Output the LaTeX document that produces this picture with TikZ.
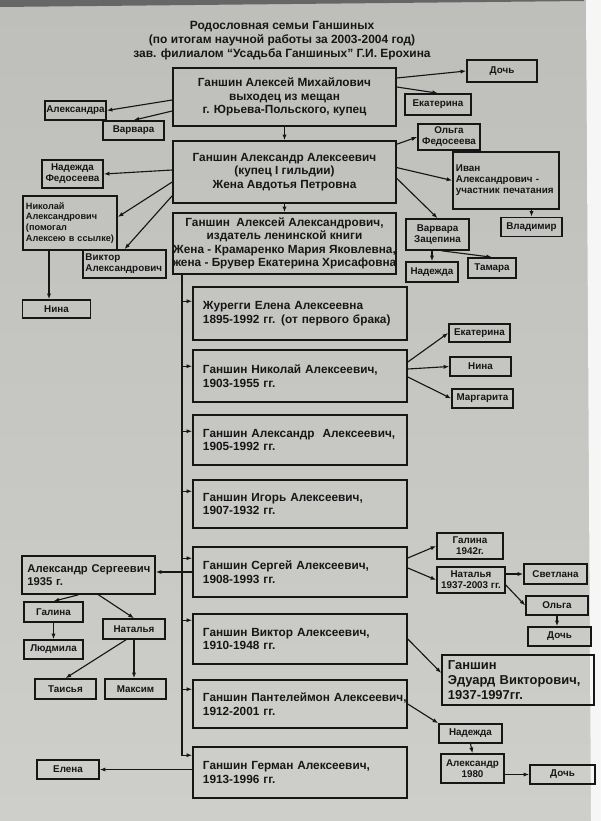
\documentclass[tikz,border=0pt]{standalone}
\usepackage{fontspec}
\setmainfont{Liberation Sans}
\usepackage{tikz}
\usetikzlibrary{arrows.meta}

\definecolor{postertop}{RGB}{190,190,187}
\definecolor{posterbot}{RGB}{206,206,203}
\definecolor{ink}{RGB}{22,22,22}

\tikzset{
  box/.style={draw=ink, line width=1.1pt, inner sep=0pt, align=center, text=ink,
    font=\fontsize{7}{7.8}\selectfont\bfseries},
  mainbox/.style={box, font=\fontsize{8.4}{9.6}\selectfont\bfseries},
  sonbox/.style={mainbox, align=left, text width=4.85cm, inner xsep=0.25cm,
    minimum width=5.35cm},
  wh/.style 2 args={minimum width=#1cm, minimum height=#2cm},
  link/.style={->, draw=ink, line width=0.8pt}
}

\begin{document}
\begin{tikzpicture}[x=0.025cm, y=-0.025cm, >={Latex[length=4pt,width=3pt]}]

\useasboundingbox (0,0) rectangle (600,821);
\shade[top color=postertop, bottom color=posterbot] (0,0) rectangle (600,821);
\fill[black!60] (0,0) -- (584,0) -- (584,1) -- (0,7) -- cycle;
\fill[white!93!gray] (586,0) -- (600,0) -- (600,821) -- (591,821) -- cycle;

% title
\node[align=center, text=ink, font=\fontsize{8.5}{9.9}\selectfont\bfseries] (title) at (282,41)
  {Родословная семьи Ганшиных\\(по итогам научной работы за 2003-2004 год)\\зав. филиалом “Усадьба Ганшиных” Г.И. Ерохина};

% first generations
\node[mainbox, wh={5.575}{1.45}] (alexM) at (284.5,97)
  {Ганшин Алексей Михайлович\\выходец из мещан\\г. Юрьева-Польского, купец};
\node[mainbox, wh={5.575}{1.55}] (alexandrA) at (284.5,172)
  {Ганшин Александр Алексеевич\\(купец I гильдии)\\Жена Авдотья Петровна};
\node[mainbox, wh={5.575}{1.525}] (alexeyA) at (284.5,243.5)
  {Ганшин\ \ Алексей Александрович,\\издатель ленинской книги\\Жена - Крамаренко Мария Яковлевна,\\жена - Брувер Екатерина Хрисафовна};

\node[box, wh={1.75}{0.55}] (doch1) at (502,71) {Дочь};
\node[box, wh={1.65}{0.525}] (ekat1) at (438,104.5) {Екатерина};
\node[box, wh={1.525}{0.475}] (aleksandra) at (75.5,110.5) {Александра};
\node[box, wh={1.525}{0.475}] (varvara) at (133.5,130.5) {Варвара};
\node[box, wh={1.55}{0.65}] (olgaF) at (449,137) {Ольга\\Федосеева};
\node[box, wh={1.525}{0.7}] (nadezhdaF) at (72.5,174) {Надежда\\Федосеева};
\node[box, align=left, text width=2.5cm, inner xsep=0.075cm, minimum height=1.425cm] (ivan) at (506,180.5)
  {Иван\\Александрович -\\участник печатания};
\node[box, wh={1.525}{0.475}] (vladimir) at (531.5,227) {Владимир};
\node[box, align=left, text width=2.2cm, inner xsep=0.075cm, minimum height=1.35cm,
  font=\fontsize{6.5}{7.8}\selectfont\bfseries] (nikolajA) at (70,223)
  {Николай\\Александрович\\(помогал\\\mbox{Алексею в ссылке)}};
\node[box, align=left, text width=1.95cm, inner xsep=0.0625cm, minimum height=0.7cm] (viktorA) at (124.5,264)
  {Виктор\\Александрович};
\node[box, wh={1.575}{0.775}] (varvaraZ) at (437.5,234.5) {Варвара\\Зацепина};
\node[box, wh={1.3}{0.5}] (nadezhda1) at (432,272) {Надежда};
\node[box, wh={1.2}{0.5}] (tamara) at (492,268) {Тамара};
\node[box, wh={1.7}{0.45}] (nina1) at (56.5,309) {Нина};

\draw[link] ([yshift=0.475cm]alexM.east) -- (doch1.west);
\draw[link] ([yshift=0.25cm]alexM.east) -- (ekat1.north);
\draw[link] ([yshift=-0.075cm]alexM.west) -- (aleksandra.east);
\draw[link] ([yshift=-0.35cm]alexM.west) -- (varvara.north);
\draw[link] (alexM.south) -- (alexandrA.north);
\draw[link] ([yshift=-0.1cm]alexandrA.north east) -- (olgaF.west);
\draw[link] ([yshift=0.05cm]alexandrA.west) -- (nadezhdaF.east);
\draw[link] ([yshift=0.11cm]alexandrA.east) -- (ivan.west);
\draw[link] ([yshift=-0.16cm]alexandrA.east) -- (varvaraZ.north);
\draw[link] ([yshift=-0.25cm]alexandrA.west) -- ([yshift=0.15cm]nikolajA.east);
\draw[link] ([yshift=0.2cm]alexandrA.south west) -- (viktorA.north);
\draw[link] (alexandrA.south) -- (alexeyA.north);
\draw[link] (vladimir.north |- ivan.south) -- (vladimir.north);
\draw[link] (nadezhda1.north |- varvaraZ.south) -- (nadezhda1.north);
\draw[link] ([xshift=0.1cm]varvaraZ.south) -- (tamara.north);
\coordinate (ninaTop) at ([xshift=-0.525cm]nikolajA.south);
\draw[link] (ninaTop) -- (ninaTop |- nina1.north);

% children of Alexey Alexandrovich
\node[sonbox, minimum height=1.325cm] (zhuregi) at (300,313.5)
  {Журегги Елена Алексеевна\\1895-1992 гг. (от первого брака)};
\node[sonbox, minimum height=1.3cm] (nikolaj) at (300,376)
  {Ганшин Николай Алексеевич,\\1903-1955 гг.};
\node[sonbox, minimum height=1.25cm] (aleksandr) at (300,440)
  {Ганшин Александр\ \ Алексеевич,\\1905-1992 гг.};
\node[sonbox, minimum height=1.2cm] (igor) at (300,504)
  {Ганшин Игорь Алексеевич,\\1907-1932 гг.};
\node[sonbox, minimum height=1.25cm] (sergej) at (300,572)
  {Ганшин Сергей Алексеевич,\\1908-1993 гг.};
\node[sonbox, minimum height=1.25cm] (viktor) at (300,639)
  {Ганшин Виктор Алексеевич,\\1910-1948 гг.};
\node[sonbox, minimum height=1.2cm] (pantelejmon) at (300,704)
  {\mbox{Ганшин Пантелеймон Алексеевич,}\\1912-2001 гг.};
\node[sonbox, minimum height=1.275cm] (german) at (300,772.5)
  {Ганшин Герман Алексеевич,\\1913-1996 гг.};

\coordinate (trunk) at ([xshift=0.25cm]alexeyA.south west);
\coordinate (t1) at ([yshift=-0.375cm]zhuregi.north west);
\coordinate (t2) at ([yshift=-0.425cm]nikolaj.north west);
\coordinate (t3) at ([yshift=-0.425cm]aleksandr.north west);
\coordinate (t4) at ([yshift=-0.3cm]igor.north west);
\coordinate (t5) at ([yshift=-0.3cm]sergej.north west);
\coordinate (t6) at ([yshift=-0.175cm]viktor.north west);
\coordinate (t7) at ([yshift=-0.25cm]pantelejmon.north west);
\coordinate (t8) at ([yshift=-0.225cm]german.north west);
\draw[link] (trunk) |- (t8);
\draw[link] (trunk |- t1) -- (t1);
\draw[link] (trunk |- t2) -- (t2);
\draw[link] (trunk |- t3) -- (t3);
\draw[link] (trunk |- t4) -- (t4);
\draw[link] (trunk |- t5) -- (t5);
\draw[link] (trunk |- t6) -- (t6);
\draw[link] (trunk |- t7) -- (t7);

% grandchildren
\node[box, wh={1.525}{0.45}] (ekat2) at (479.5,333) {Екатерина};
\node[box, wh={1.525}{0.475}] (nina2) at (480.5,366.5) {Нина};
\node[box, wh={1.525}{0.475}] (margarita) at (482.5,398.5) {Маргарита};
\draw[link] ([yshift=0.35cm]nikolaj.east) -- (ekat2.west);
\draw[link] ([yshift=0.175cm]nikolaj.east) -- (nina2.west);
\draw[link] ([yshift=-0.025cm]nikolaj.east) -- (margarita.west);

\node[box, wh={1.65}{0.65}] (galina42) at (470,546) {Галина\\1942г.};
\node[box, wh={1.7}{0.65}] (natalja37) at (471,580) {Наталья\\1937-2003 гг.};
\node[box, wh={1.575}{0.5}] (svetlana) at (555.5,574) {Светлана};
\node[box, wh={1.55}{0.475}] (olga) at (557,605.5) {Ольга};
\node[box, wh={1.575}{0.475}] (doch2) at (559.5,636.5) {Дочь};
\draw[link] ([yshift=0.35cm]sergej.east) -- (galina42.west);
\draw[link] ([yshift=0.1cm]sergej.east) -- (natalja37.west);
\draw[link] (svetlana.west -| natalja37.east) -- (svetlana.west);
\draw[link] ([yshift=-0.125cm]natalja37.east) -- (olga.west);
\draw[link] (olga.south) -- (olga.south |- doch2.north);

\node[mainbox, align=left, text width=3.05cm, inner xsep=0.1375cm, minimum height=0.95cm,
  font=\fontsize{8}{9.4}\selectfont\bfseries] (aleksandrS) at (88.5,575)
  {\mbox{Александр Сергеевич}\\1935 г.};
\node[box, wh={1.475}{0.5}] (galina) at (53.5,612) {Галина};
\node[box, wh={1.55}{0.5}] (natalja) at (134,629) {Наталья};
\node[box, wh={1.475}{0.475}] (ljudmila) at (53.5,649.5) {Людмила};
\node[box, wh={1.525}{0.5}] (taisja) at (65.5,689) {Таисья};
\node[box, wh={1.525}{0.5}] (maksim) at (135.5,689) {Максим};
\draw[link] (sergej.west) -- (sergej.west -| aleksandrS.east);
\draw[link] ([xshift=-0.25cm]aleksandrS.south) -- (galina.north);
\draw[link] ([xshift=0.25cm]aleksandrS.south) -- (natalja.north);
\draw[link] (galina.south) -- (ljudmila.north);
\draw[link] ([xshift=-0.2cm]natalja.south) -- (taisja.north);
\draw[link] (natalja.south) -- (natalja.south |- maksim.north);

\node[box, align=left, text width=3.5cm, inner xsep=0.15cm, minimum height=1.25cm,
  font=\fontsize{9.2}{10.6}\selectfont\bfseries] (eduard) at (518,680)
  {Ганшин\\Эдуард Викторович,\\1937-1997гг.};
\draw[link] (viktor.east) -- ([yshift=0.175cm]eduard.west);

\node[box, wh={1.575}{0.475}] (nadezhda2) at (470.5,733.5) {Надежда};
\node[box, wh={1.575}{0.725}] (aleksandr80) at (472.5,768.5) {Александр\\1980};
\node[box, wh={1.625}{0.475}] (doch3) at (562.5,774.5) {Дочь};
\draw[link] (pantelejmon.east) -- (nadezhda2.north west);
\draw[link] (nadezhda2.south) -- (aleksandr80.north);
\draw[link] (doch3.west -| aleksandr80.east) -- (doch3.west);

\node[box, wh={1.55}{0.475}] (elena) at (68,769.5) {Елена};
\draw[link] (elena.east -| german.west) -- (elena.east);

\end{tikzpicture}
\end{document}
